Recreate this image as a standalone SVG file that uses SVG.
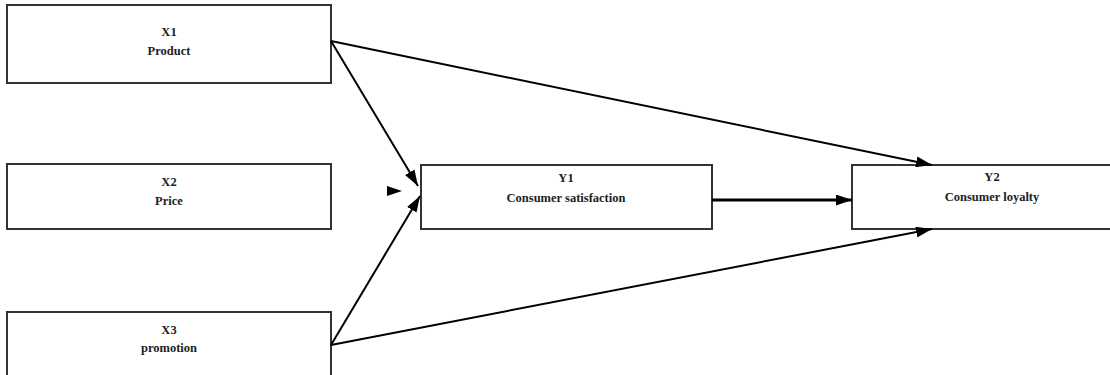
<svg xmlns="http://www.w3.org/2000/svg" width="1110" height="375" viewBox="0 0 1110 375">
<style>
.box{fill:#fff;stroke:#333;stroke-width:2}
.t{font-family:"Liberation Serif","Times New Roman",serif;font-weight:bold;font-size:12.5px;fill:#222;text-anchor:middle}
.c{stroke:#000;stroke-width:2;fill:none}
</style>
<defs>
<marker id="ah2" markerWidth="16" markerHeight="11" refX="16" refY="5.5" orient="auto" markerUnits="userSpaceOnUse">
<path d="M0,0 L16,5.5 L0,11 z" fill="#000"/>
</marker>
</defs>
<g id="x1"><rect class="box" x="7" y="5" width="324" height="78"/><text class="t" x="169" y="36">X1</text><text class="t" x="169" y="55">Product</text></g>
<g id="x2"><rect class="box" x="7" y="164" width="324" height="65"/><text class="t" x="169" y="186">X2</text><text class="t" x="169" y="205">Price</text></g>
<g id="x3"><rect class="box" x="7" y="312" width="324" height="68"/><text class="t" x="169" y="334">X3</text><text class="t" x="169" y="352">promotion</text></g>
<g id="y1"><rect class="box" x="421" y="165" width="291" height="64"/><text class="t" x="566" y="182">Y1</text><text class="t" x="566" y="202">Consumer satisfaction</text></g>
<g id="y2"><rect class="box" x="852" y="165" width="262" height="64"/><text class="t" x="992" y="181">Y2</text><text class="t" x="992" y="201">Consumer loyalty</text></g>
<g id="connectors">
<line class="c" x1="331" y1="41" x2="418" y2="186" marker-end="url(#ah2)"/>
<line class="c" x1="331" y1="345" x2="420" y2="196" marker-end="url(#ah2)"/>
<path d="M387,186 L402,191 L387,196 z" fill="#000"/>
<line class="c" x1="331" y1="41" x2="932" y2="165" marker-end="url(#ah2)"/>
<line class="c" x1="331" y1="345" x2="932" y2="229" marker-end="url(#ah2)"/>
<line class="c" style="stroke-width:3" x1="712" y1="200" x2="852" y2="200" marker-end="url(#ah2)"/>
</g>
</svg>
